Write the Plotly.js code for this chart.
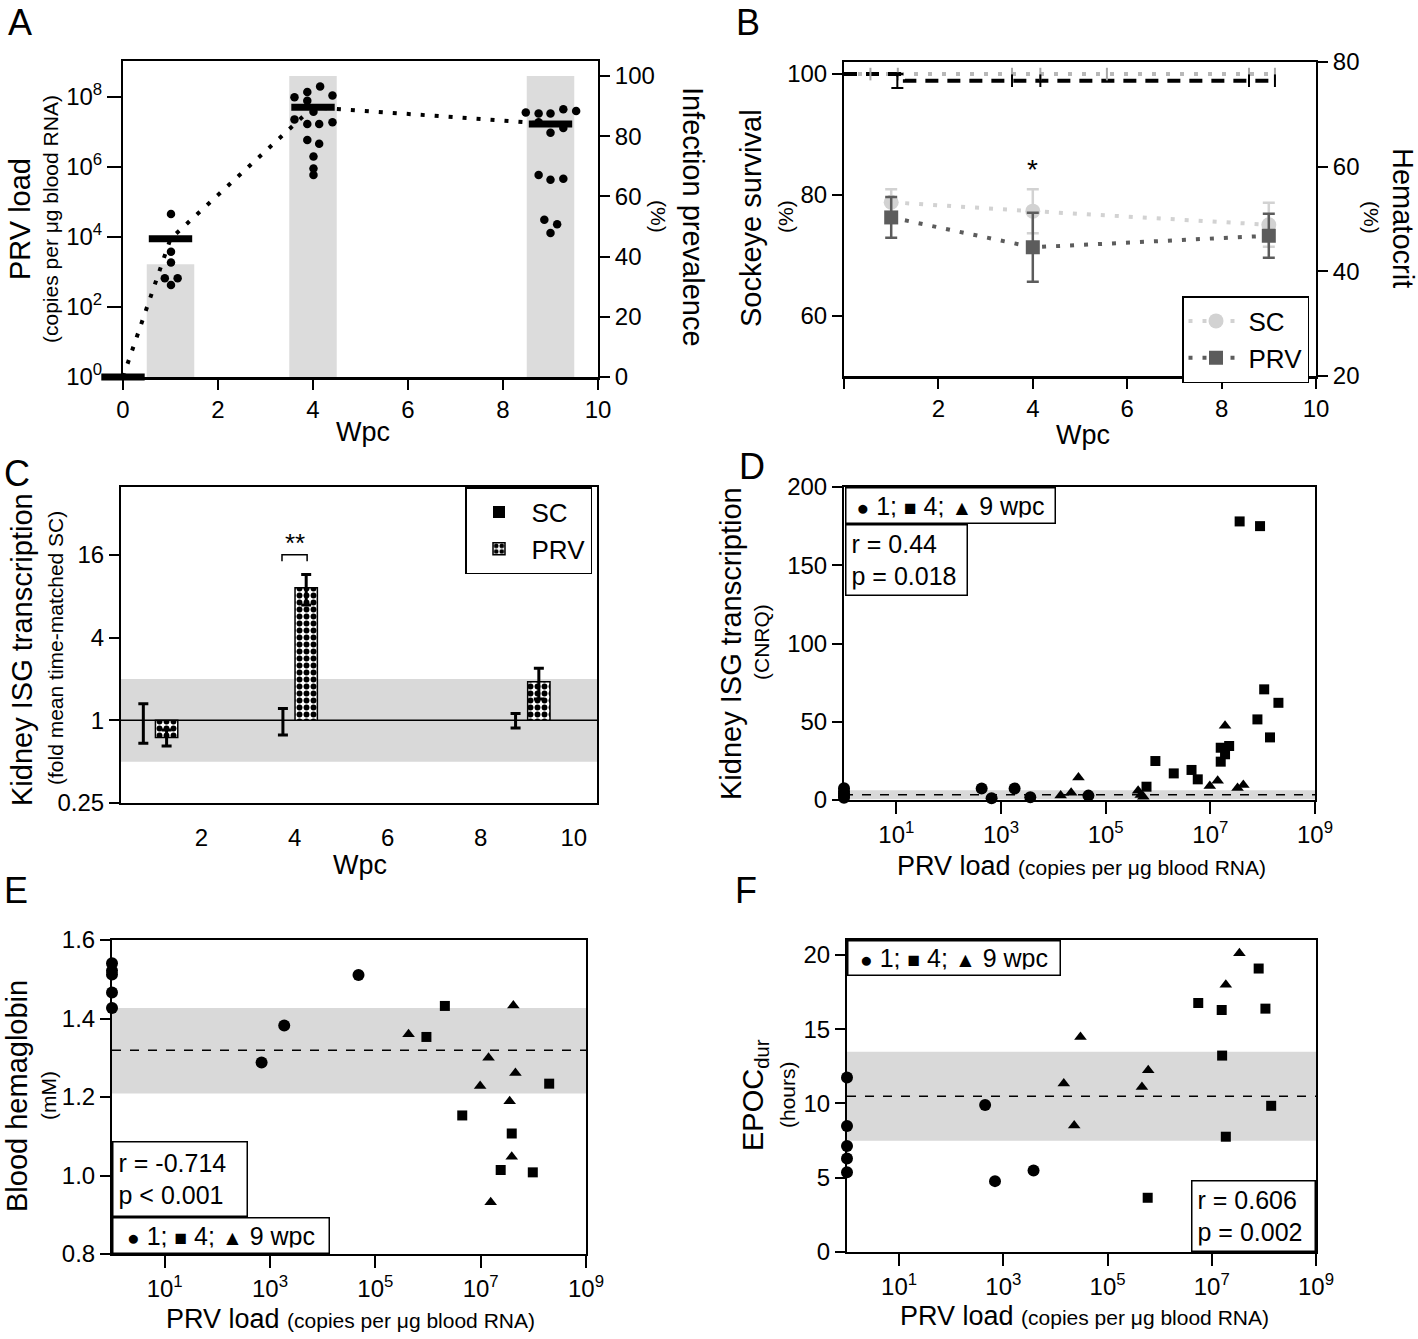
<!DOCTYPE html>
<html><head><meta charset="utf-8">
<script src="https://cdn.plot.ly/plotly-3.0.1.min.js"></script>
<style>body{margin:0;background:#fff}#chart{width:1418px;height:1339px}</style>
</head><body><div id="chart"></div>
<script>
// ===================== DATA =====================
// Panel A: PRV load (copies per ug blood RNA) and infection prevalence (%)
const aMeanWpc = [0, 1, 4, 9];
const aMeanLoad = [1, 8.9e3, 5.1e7, 1.7e7];
const aPrevWpc = [1, 4, 9];
const aPrevalence = [37.5, 100, 100];
const aWpc1 = [1.01, 1.01, 1.01, 0.88, 1.15, 1.01];
const aLoad1 = [4.57e4, 3.8e3, 1.86e3, 6.6e2, 6.6e2, 4.27e2];
const aWpc4 = [4.15, 3.88, 3.61, 4.41, 3.88, 4.01, 3.61, 3.88, 4.13, 4.41, 3.88, 4.13, 4.01, 4.01, 4.01];
const aLoad4 = [2.0e8, 1.4e8, 9.8e7, 1.1e8, 7.8e7, 3.8e7, 2.3e7, 1.7e7, 1.7e7, 1.9e7, 5.9e6, 4.6e6, 2.0e6, 9.1e5, 5.9e5];
const aWpc9 = [8.48, 8.75, 9.0, 9.27, 9.54, 8.75, 9.0, 9.27, 8.75, 9.0, 9.27, 8.87, 9.14, 9.0];
const aLoad9 = [3.6e7, 3.4e7, 3.4e7, 4.5e7, 4.0e7, 1.9e7, 9.5e6, 1.3e7, 5.9e5, 4.3e5, 4.6e5, 3.1e4, 2.3e4, 1.3e4];

// Panel B: survival (%) and hematocrit (%)
const bSurvSCWpc = [0, 9.13];
const bSurvSC = [100, 100];
const bSurvPRVWpc = [0, 1.29, 9.13];
const bSurvPRV = [100, 98.9, 98.9];
const bCensorSCWpc = [0.56, 1.14, 3.56, 4.16, 5.57, 8.58, 9.13];
const bCensorPRVWpc = [3.56, 4.16, 8.58, 9.13];
const bSurvErrWpc = [1.13];
const bSurvErrMean = [100];
const bSurvErrLow = [2.3];
const bWpc = [1, 4, 9];
const bHctSC = [53.2, 51.5, 48.9];
const bHctSCerr = [2.5, 4.2, 4.2];
const bHctPRV = [50.3, 44.6, 46.8];
const bHctPRVerr = [3.9, 6.6, 4.2];

// Panel C: kidney ISG transcription (fold mean time-matched SC)
const cWpc = [1, 4, 9];
const cSC = [1, 1, 1];
const cSCerr = [0.32, 0.22, 0.12];
const cPRV = [0.75, 9.2, 1.91];
const cPRVerr = [0.1, 2.3, 0.48];
const cBand = [0.5, 2];

// Panel D: ISG (CNRQ) vs PRV load
const dLoad1 = [1, 1, 1, 1, 1, 427, 661, 1820, 3630, 46800];
const dIsg1 = [7.5, 5.5, 4, 2.5, 1.5, 7.4, 1.1, 7.4, 1.7, 2.8];
const dLoad4 = [891000, 2.0e6, 4.37e6, 5.75e6, 1.58e7, 2.29e7, 1.91e7, 1.58e7, 603000, 1.07e8, 2.0e8, 7.94e7, 1.38e8, 3.63e7, 8.91e7];
const dIsg4 = [24.9, 17.0, 19.2, 13.2, 33.4, 34.5, 29.2, 24.5, 8.5, 70.7, 62.1, 51.5, 40.0, 178, 175];
const dLoad9 = [13800, 21900, 30200, 417000, 468000, 525000, 9.77e6, 1.38e7, 1.91e7, 3.31e7, 4.27e7];
const dIsg9 = [2.8, 4.7, 14.3, 5.9, 3.2, 2.0, 8.9, 12.3, 47.5, 7.6, 9.6];
const dBand = [0.5, 6.2];
const dMean = 3.3;

// Panel E: blood hemoglobin (mM) vs PRV load
const eLoad1 = [1, 1, 1, 1, 1, 692, 1862, 47900];
const eHb1 = [1.541, 1.522, 1.512, 1.466, 1.427, 1.288, 1.382, 1.511];
const eLoad4 = [2.09e6, 933000, 4.47e6, 2.0e8, 3.89e7, 2.4e7, 9.77e7];
const eHb4 = [1.432, 1.353, 1.153, 1.234, 1.107, 1.014, 1.008];
const eLoad9 = [427000, 4.17e7, 1.41e7, 4.57e7, 9.77e6, 3.55e7, 3.89e7, 1.55e7];
const eHb9 = [1.360, 1.433, 1.300, 1.261, 1.228, 1.189, 1.048, 0.932];
const eBand = [1.209, 1.427];
const eMean = 1.319;

// Panel F: EPOC duration (hours) vs PRV load
const fLoad1 = [1, 1, 1, 1, 1, 447, 692, 3800];
const fEpoc1 = [11.74, 8.48, 7.14, 6.29, 5.37, 9.89, 4.77, 5.48];
const fLoad4 = [7.94e7, 5.5e6, 1.55e7, 1.07e8, 1.58e7, 1.38e8, 1.86e7, 589000];
const fEpoc4 = [19.08, 16.76, 16.29, 16.38, 13.22, 9.84, 7.76, 3.65];
const fLoad9 = [3.39e7, 1.86e7, 30200, 14450, 603000, 457000, 22900];
const fEpoc9 = [20.1, 17.99, 14.47, 11.34, 12.24, 11.1, 8.52];
const fBand = [7.49, 13.47];
const fMean = 10.49;

const logTicks = [10, 1e3, 1e5, 1e7, 1e9];
const logTickText = ['10<sup>1</sup>', '10<sup>3</sup>', '10<sup>5</sup>', '10<sup>7</sup>', '10<sup>9</sup>'];

// ===================== LAYOUT HELPERS =====================
const W = 1418, H = 1339;
const FONT = '"Liberation Sans", Arial, Helvetica, sans-serif';
const px = v => v / W;
const py = v => 1 - v / H;
const hd = (a, b) => [a / W, b / W];
const vd = (top, bot) => [1 - bot / H, 1 - top / H];
const TICKF = {family: FONT, size: 24, color: '#000'};
function ax(extra) {
  return Object.assign({
    showline: true, linecolor: '#000', linewidth: 2, ticks: 'outside', tickcolor: '#000',
    tickwidth: 2, ticklen: 10, showgrid: false, zeroline: false, tickfont: TICKF,
    fixedrange: true, tickmode: 'array'
  }, extra);
}
function txt(text, x, y, size, extra) {
  return Object.assign({text, x: px(x), y: py(y), xref: 'paper', yref: 'paper', showarrow: false,
    font: {family: FONT, size, color: '#000'}, xanchor: 'center', yanchor: 'middle'}, extra || {});
}
function box(text, x0, y0, x1, y1, size, align) {
  const bw = 1.5, pad = 5;
  return {text, xref: 'paper', yref: 'paper', x: px(x0), y: py(y0), xanchor: 'left', yanchor: 'top',
    width: x1 - x0 - 2 * (bw + pad), height: y1 - y0 - 2 * (bw + pad), showarrow: false,
    bordercolor: '#000', borderwidth: bw, borderpad: pad, bgcolor: '#fff', align, valign: 'middle',
    font: {family: FONT, size, color: '#000'}};
}
const SYM = s => '<span style="font-size:21px">' + s + '</span>';
const keyText = SYM('●') + ' 1; ' + SYM('■') + ' 4; ' + SYM('▲') + ' 9 wpc';

function scat(xa, ya, x, y, symbol, size) {
  return {type: 'scatter', mode: 'markers', xaxis: xa, yaxis: ya, x, y, showlegend: false,
    cliponaxis: false, marker: {symbol, size, color: '#000', line: {width: 0}}};
}

// ===================== TRACES =====================
const traces = [];
// ---- A ----
traces.push({type: 'bar', x: aPrevWpc, y: aPrevalence, width: 1, xaxis: 'x', yaxis: 'y',
  marker: {color: '#dcdcdc', line: {width: 0}}, showlegend: false});
traces.push({type: 'scatter', mode: 'lines', x: aMeanWpc, y: aMeanLoad, xaxis: 'x', yaxis: 'y2',
  line: {color: '#000', width: 4, dash: '4px,10px'}, showlegend: false, cliponaxis: false});
traces.push(scat('x', 'y2', aWpc1.concat(aWpc4, aWpc9), aLoad1.concat(aLoad4, aLoad9), 'circle', 8.5));
traces.push({type: 'scatter', mode: 'markers', x: aMeanWpc, y: aMeanLoad, xaxis: 'x', yaxis: 'y2',
  cliponaxis: false, showlegend: false,
  marker: {symbol: 'line-ew', size: 31, color: '#000', line: {width: 7, color: '#000'}}});

// ---- B ----
traces.push({type: 'scatter', mode: 'lines', x: bSurvSCWpc, y: bSurvSC, xaxis: 'x2', yaxis: 'y3',
  line: {color: '#b8b8b8', width: 4, dash: '4px,10px'}, showlegend: false, cliponaxis: false});
traces.push({type: 'scatter', mode: 'lines', x: bSurvPRVWpc, y: bSurvPRV, xaxis: 'x2', yaxis: 'y3',
  line: {color: '#000', width: 4, dash: '13px,9px', shape: 'hv'}, showlegend: false, cliponaxis: false});
traces.push({type: 'scatter', mode: 'markers', x: bCensorSCWpc, y: bCensorSCWpc.map(() => bSurvSC[0]),
  xaxis: 'x2', yaxis: 'y3', showlegend: false, cliponaxis: false,
  marker: {symbol: 'line-ns', size: 9, line: {width: 2, color: '#a8a8a8'}}});
traces.push({type: 'scatter', mode: 'markers', x: bCensorPRVWpc, y: bCensorPRVWpc.map(() => bSurvPRV[1]),
  xaxis: 'x2', yaxis: 'y3', showlegend: false, cliponaxis: false,
  marker: {symbol: 'line-ns', size: 9, line: {width: 2, color: '#000'}}});
traces.push({type: 'scatter', mode: 'markers', x: bSurvErrWpc, y: bSurvErrMean, xaxis: 'x2', yaxis: 'y3',
  showlegend: false, cliponaxis: false, marker: {symbol: 'triangle-down', size: 7, color: '#000'},
  error_y: {type: 'data', symmetric: false, array: [0], arrayminus: bSurvErrLow, color: '#000', thickness: 2, width: 6}});
traces.push({type: 'scatter', mode: 'lines+markers', name: 'SC', legend: 'legend', x: bWpc, y: bHctSC,
  xaxis: 'x2', yaxis: 'y4', cliponaxis: false,
  line: {color: '#d2d2d2', width: 4, dash: '4px,10px'},
  marker: {symbol: 'circle', size: 15, color: '#d2d2d2'},
  error_y: {type: 'data', array: bHctSCerr, color: '#d2d2d2', thickness: 2.5, width: 6}});
traces.push({type: 'scatter', mode: 'lines+markers', name: 'PRV', legend: 'legend', x: bWpc, y: bHctPRV,
  xaxis: 'x2', yaxis: 'y4', cliponaxis: false,
  line: {color: '#5c5c5c', width: 4, dash: '4px,10px'},
  marker: {symbol: 'square', size: 14, color: '#5c5c5c'},
  error_y: {type: 'data', array: bHctPRVerr, color: '#5c5c5c', thickness: 2.5, width: 6}});

// ---- C ----
const cBase = cWpc.map(() => 1);
traces.push({type: 'bar', name: 'SC', legend: 'legend2', x: cWpc, y: cSC.map(v => v - 1), base: cBase,
  width: 0.48, offset: -0.49, xaxis: 'x3', yaxis: 'y5', marker: {color: '#000', line: {width: 0}}});
traces.push({type: 'bar', name: 'PRV', legend: 'legend2', x: cWpc, y: cPRV.map(v => v - 1), base: cBase,
  width: 0.48, offset: 0.01, xaxis: 'x3', yaxis: 'y5',
  marker: {color: '#fff', line: {width: 1.5, color: '#000'},
    pattern: {shape: '.', fgcolor: '#000', bgcolor: '#fff', size: 7, solidity: 0.55, fillmode: 'replace'}}});
traces.push({type: 'scatter', mode: 'markers', x: cWpc.map(v => v - 0.25), y: cSC, xaxis: 'x3', yaxis: 'y5',
  showlegend: false, marker: {size: 1, color: 'rgba(0,0,0,0)'},
  error_y: {type: 'data', array: cSCerr, color: '#000', thickness: 3, width: 5}});
traces.push({type: 'scatter', mode: 'markers', x: cWpc.map(v => v + 0.25), y: cPRV, xaxis: 'x3', yaxis: 'y5',
  showlegend: false, marker: {size: 1, color: 'rgba(0,0,0,0)'},
  error_y: {type: 'data', array: cPRVerr, color: '#000', thickness: 3, width: 5}});
// significance bracket at 4 wpc (between SC and PRV bars)
const brX = [cWpc[1] - 0.27, cWpc[1] - 0.27, cWpc[1] + 0.27, cWpc[1] + 0.27];
const brY = [14.4, 16, 16, 14.4];
traces.push({type: 'scatter', mode: 'lines', x: brX, y: brY, xaxis: 'x3', yaxis: 'y5', showlegend: false,
  line: {color: '#000', width: 1.5}});

// ---- D ----
traces.push(scat('x4', 'y6', dLoad1, dIsg1, 'circle', 12));
traces.push(scat('x4', 'y6', dLoad4, dIsg4, 'square', 10));
traces.push(scat('x4', 'y6', dLoad9, dIsg9, 'triangle-up', 11));
// ---- E ----
traces.push(scat('x5', 'y7', eLoad1, eHb1, 'circle', 12));
traces.push(scat('x5', 'y7', eLoad4, eHb4, 'square', 10));
traces.push(scat('x5', 'y7', eLoad9, eHb9, 'triangle-up', 11));
// ---- F ----
traces.push(scat('x6', 'y8', fLoad1, fEpoc1, 'circle', 12));
traces.push(scat('x6', 'y8', fLoad4, fEpoc4, 'square', 10));
traces.push(scat('x6', 'y8', fLoad9, fEpoc9, 'triangle-up', 11));

// ===================== SHAPES =====================
const BAND = '#d9d9d9';
function band(xa, ya, lo, hi) {
  return {type: 'rect', xref: xa + ' domain', yref: ya, x0: 0, x1: 1, y0: lo, y1: hi,
    fillcolor: BAND, line: {width: 0}, layer: 'below'};
}
function hline(xa, ya, v, dash, w) {
  return {type: 'line', xref: xa + ' domain', yref: ya, x0: 0, x1: 1, y0: v, y1: v,
    line: {color: '#000', width: w, dash}, layer: 'below'};
}
const shapes = [
  band('x3', 'y5', cBand[0], cBand[1]), hline('x3', 'y5', 1, 'solid', 1.5),
  band('x4', 'y6', dBand[0], dBand[1]), hline('x4', 'y6', dMean, 'dash', 1.5),
  band('x5', 'y7', eBand[0], eBand[1]), hline('x5', 'y7', eMean, 'dash', 1.5),
  band('x6', 'y8', fBand[0], fBand[1]), hline('x6', 'y8', fMean, 'dash', 1.5)
];

// ===================== ANNOTATIONS =====================
const SUB = 21, TIT = 29;
const annotations = [
  txt('A', 20, 22, 36), txt('B', 748, 22, 36), txt('C', 17, 474, 36),
  txt('D', 752, 466, 36), txt('E', 16, 890, 36), txt('F', 746, 890, 36),
  // A titles
  txt('PRV load', 20, 219, TIT, {textangle: -90}),
  txt('(copies per μg blood RNA)', 50, 219, SUB, {textangle: -90}),
  txt('Infection prevalence', 693, 217, TIT, {textangle: 90}),
  txt('(%)', 659, 216, SUB, {textangle: 90}),
  txt('Wpc', 363, 432, 27),
  // B titles
  txt('Sockeye survival', 751, 218, TIT, {textangle: -90}),
  txt('(%)', 786, 217, SUB, {textangle: -90}),
  txt('Hematocrit', 1403, 218, TIT, {textangle: 90}),
  txt('(%)', 1371, 217, SUB, {textangle: 90}),
  txt('Wpc', 1083, 435, 27),
  {text: '*', x: bWpc[1], y: 59.4, xref: 'x2', yref: 'y4', showarrow: false,
    font: {family: FONT, size: 28, color: '#000'}},
  // C titles
  txt('Kidney ISG transcription', 22, 650, TIT, {textangle: -90}),
  txt('(fold mean time-matched SC)', 55, 648, SUB, {textangle: -90}),
  txt('Wpc', 360, 865, 27),
  {text: '**', x: cWpc[1], y: Math.log10(19.6), xref: 'x3', yref: 'y5', showarrow: false,
    font: {family: FONT, size: 26, color: '#000'}},
  // D titles
  txt('Kidney ISG transcription', 731, 644, TIT, {textangle: -90}),
  txt('(CNRQ)', 761, 642, SUB, {textangle: -90}),
  txt('PRV load <span style="font-size:21px">(copies per μg blood RNA)</span>', 1081, 866, 27),
  box(keyText, 845, 487, 1056, 524, 25, 'center'),
  box('r = 0.44<br>p = 0.018', 845, 524, 968, 596, 25, 'left'),
  // E titles
  txt('Blood hemaglobin', 17, 1096, TIT, {textangle: -90}),
  txt('(mM)', 48, 1096, SUB, {textangle: -90}),
  txt('PRV load <span style="font-size:21px">(copies per μg blood RNA)</span>', 350, 1319, 27),
  box('r = -0.714<br>p < 0.001', 112, 1141, 248, 1217, 25, 'left'),
  box(keyText, 112, 1217, 330, 1254, 25, 'center'),
  // F titles
  txt('EPOC<sub>dur</sub>', 755, 1095, TIT, {textangle: -90}),
  txt('(hours)', 787, 1095, SUB, {textangle: -90}),
  txt('PRV load <span style="font-size:21px">(copies per μg blood RNA)</span>', 1084, 1316, 27),
  box(keyText, 847, 940, 1061, 976, 25, 'center'),
  box('r = 0.606<br>p = 0.002', 1191, 1180, 1316, 1252, 25, 'left')
];

// ===================== LAYOUT =====================
const layout = {
  width: W, height: H, margin: {l: 0, r: 0, t: 0, b: 0},
  paper_bgcolor: '#fff', plot_bgcolor: 'rgba(0,0,0,0)',
  font: {family: FONT, color: '#000', size: 24},
  barmode: 'overlay', hovermode: false, showlegend: true,
  // A
  xaxis: ax({domain: hd(123, 598), range: [0, 10], anchor: 'y', tickvals: [0, 2, 4, 6, 8, 10], mirror: true, linewidth: 2.5}),
  yaxis: ax({domain: vd(61, 377), range: [0, 105], anchor: 'x', side: 'right', tickvals: [0, 20, 40, 60, 80, 100]}),
  yaxis2: ax({type: 'log', range: [0, 9.03], anchor: 'x', side: 'left', overlaying: 'y', ticklen: 14,
    tickvals: [1, 1e2, 1e4, 1e6, 1e8], ticktext: ['10<sup>0</sup>', '10<sup>2</sup>', '10<sup>4</sup>', '10<sup>6</sup>', '10<sup>8</sup>']}),
  // B
  xaxis2: ax({domain: hd(844, 1316), range: [0, 10], anchor: 'y3', tickvals: [0, 2, 4, 6, 8, 10],
    ticktext: ['', '2', '4', '6', '8', '10'], mirror: true, linewidth: 2.5}),
  yaxis3: ax({domain: vd(62, 376), range: [50, 102], anchor: 'x2', side: 'left', tickvals: [60, 80, 100]}),
  yaxis4: ax({range: [20, 80], anchor: 'x2', side: 'right', overlaying: 'y3', tickvals: [20, 40, 60, 80]}),
  // C
  xaxis3: ax({domain: hd(121, 597), range: [0.27, 10.5], anchor: 'y5', tickvals: [2, 4, 6, 8, 10],
    tickcolor: 'rgba(0,0,0,0)', ticklen: 12, mirror: true}),
  yaxis5: ax({domain: vd(487, 803), type: 'log', range: [Math.log10(0.25), 1.698], anchor: 'x3',
    tickvals: [0.25, 1, 4, 16], ticktext: ['0.25', '1', '4', '16'], mirror: true}),
  // D
  xaxis4: ax({domain: hd(844, 1315), type: 'log', range: [0, 9], anchor: 'y6', tickvals: logTicks,
    ticktext: logTickText, ticklen: 12, mirror: true}),
  yaxis6: ax({domain: vd(487, 800), range: [0, 200], anchor: 'x4', tickvals: [0, 50, 100, 150, 200], mirror: true}),
  // E
  xaxis5: ax({domain: hd(112, 586), type: 'log', range: [0, 9], anchor: 'y7', tickvals: logTicks,
    ticktext: logTickText, ticklen: 12, mirror: true}),
  yaxis7: ax({domain: vd(940, 1254), range: [0.8, 1.6], anchor: 'x5', tickvals: [0.8, 1.0, 1.2, 1.4, 1.6],
    ticktext: ['0.8', '1.0', '1.2', '1.4', '1.6'], mirror: true}),
  // F
  xaxis6: ax({domain: hd(847, 1316), type: 'log', range: [0, 9], anchor: 'y8', tickvals: logTicks,
    ticktext: logTickText, ticklen: 12, mirror: true}),
  yaxis8: ax({domain: vd(940, 1252), range: [0, 21], anchor: 'x6', tickvals: [0, 5, 10, 15, 20], mirror: true}),
  legend: {x: px(1182), y: py(296), xanchor: 'left', yanchor: 'top', bordercolor: '#000', borderwidth: 1.5,
    bgcolor: '#fff', font: {family: FONT, size: 26, color: '#000'}, itemwidth: 55, tracegroupgap: 0},
  legend2: {x: px(465), y: py(487), xanchor: 'left', yanchor: 'top', bordercolor: '#000', borderwidth: 1.5,
    bgcolor: '#fff', font: {family: FONT, size: 26, color: '#000'}, itemwidth: 55, tracegroupgap: 0},
  shapes, annotations
};

Plotly.newPlot('chart', traces, layout, {staticPlot: true, displayModeBar: false});
</script>
</body></html>
